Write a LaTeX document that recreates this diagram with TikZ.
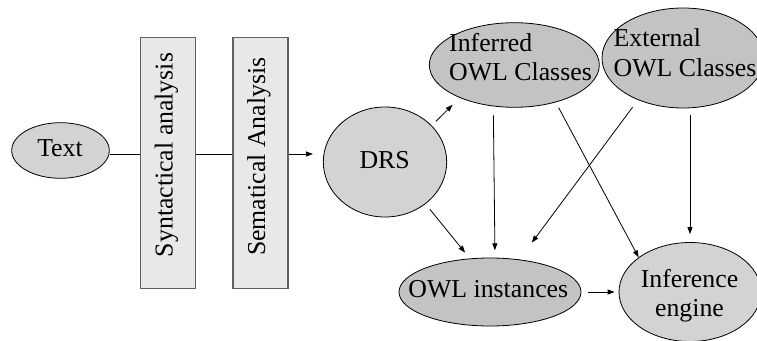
\documentclass[tikz,border=0pt]{standalone}
\usepackage{fontspec}
\setmainfont{Liberation Serif}
\usetikzlibrary{shapes.geometric,arrows.meta}
\definecolor{lightfill}{HTML}{D3D3D3}
\definecolor{darkfill}{HTML}{C3C3C3}
\definecolor{boxfill}{HTML}{E8E8E8}
\definecolor{boxline}{HTML}{606060}
\begin{document}
\begin{tikzpicture}[x=1pt,y=-1pt,
  lbl/.style={inner sep=0pt,font=\fontsize{25.8}{30}\selectfont},
  ell/.style={ellipse,draw=black,line width=0.8pt,inner sep=0pt},
  stagebox/.style={rectangle,draw=boxline,fill=boxfill,line width=1.4pt,minimum width=55pt,minimum height=251pt,inner sep=0pt},
  conn/.style={line width=0.8pt,draw=black},
  arr/.style={conn,-{Triangle[length=7pt,width=5pt]}}
]
\useasboundingbox (0,0) rectangle (757,340);
\node[ell,fill=lightfill,minimum width=97.6pt,minimum height=55.6pt] (txt) at (60.5,150.5) {};
\node[lbl,anchor=base] (txtlbl) at (60,156.7) {Text};
\node[stagebox] (syn) at (168.2,162.9) {};
\node[lbl,rotate=90,anchor=base] (synlbl) at (172.7,155) {Syntactical analysis};
\node[stagebox] (sem) at (260.5,162.9) {};
\node[lbl,rotate=90,anchor=base] (semlbl) at (265,156.7) {Sematical Analysis};
\node[ell,fill=lightfill,minimum width=123.4pt,minimum height=110pt] (drs) at (385,162) {};
\node[lbl,anchor=base] (drslbl) at (384.7,168.3) {DRS};
\node[ell,fill=darkfill,minimum width=170pt,minimum height=84.6pt] (inf) at (514.3,65) {};
\node[lbl,anchor=base west] (infA) at (449,51.7) {Inferred};
\node[lbl,anchor=base west] (infB) at (449,80) {OWL Classes};
\node[ell,fill=darkfill,minimum width=162pt,minimum height=100pt] (ext) at (683,58) {};
\node[lbl,anchor=base west] (extA) at (613.5,46.7) {External};
\node[lbl,anchor=base west] (extB) at (613.5,76) {OWL Classes};
\node[ell,fill=darkfill,minimum width=182pt,minimum height=68pt] (oi) at (490,292) {};
\node[lbl,anchor=base] (oilbl) at (488.3,297.7) {OWL instances};
\node[ell,fill=lightfill,minimum width=142pt,minimum height=99pt] (ie) at (690,292) {};
\node[lbl,anchor=base] (ieA) at (689.5,287.3) {Inference};
\node[lbl,anchor=base] (ieB) at (689.5,316) {engine};
\coordinate (lineY) at (0,154);
\draw[conn] (txt.east |- lineY) -- (syn.west |- lineY);
\draw[conn] (syn.east |- lineY) -- (sem.west |- lineY);
\draw[arr,shorten >=10pt] (sem.east |- lineY) -- (drs.west |- lineY);
\draw[arr,shorten <=6pt,shorten >=10pt] (drs.38) -- (inf.211);
\draw[arr,shorten <=7pt,shorten >=7.6pt] (drs.-46) -- (oi.121);
\draw[arr,shorten <=7.7pt,shorten >=7.3pt] ([xshift=-21pt]inf.south) -- ([xshift=5pt]oi.north);
\draw[arr,shorten <=6pt] (inf.-42) -- (ie.146);
\draw[arr,shorten <=9pt,shorten >=21pt] (ext.-137) -- (oi.48);
\draw[arr,shorten <=7pt,shorten >=8pt] ([xshift=7pt]ext.south) -- (ie.north);
\draw[arr,shorten <=6.3pt,shorten >=4pt] (oi.east) -- (ie.west);
\end{tikzpicture}
\end{document}
